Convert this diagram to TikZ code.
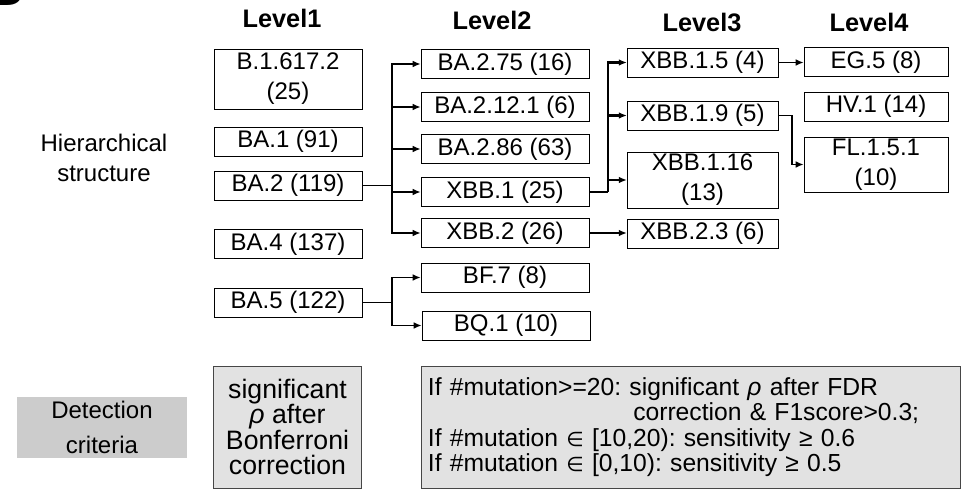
\documentclass[tikz,border=0pt]{standalone}
\usepackage{fontspec}
\setmainfont{Liberation Sans}
\newfontfamily\symfont{DejaVu Sans}
\usetikzlibrary{arrows.meta,positioning}
\frenchspacing

\definecolor{edgegray}{RGB}{70,70,70}
\definecolor{critfill}{RGB}{204,204,204}
\definecolor{rulefill}{RGB}{226,226,226}

\tikzset{
  lvbox/.style={draw, inner sep=1pt, minimum height=21.75pt, font=\fontsize{18}{22.5}\selectfont, align=center},
  lvone/.style={lvbox, minimum width=111pt},
  lvtwo/.style={lvbox, minimum width=126pt},
  lvthree/.style={lvbox, minimum width=113pt},
  lvfour/.style={lvbox, minimum width=108pt},
  head/.style={font=\fontsize{19}{22}\selectfont\bfseries},
  conn/.style={line width=1.4pt},
  arr/.style={conn, -{Latex[length=6pt,width=5pt]}},
  crit/.style={draw=edgegray, fill=rulefill, inner sep=5pt}
}
\newcommand{\elem}{{\symfont\fontsize{15}{19}\selectfont ∈}}

\begin{document}
\begin{tikzpicture}[x=0.75pt, y=-0.75pt]
\useasboundingbox (0,0) rectangle (967,489);
\node[font=\fontsize{40}{40}\selectfont\bfseries, anchor=base east] (panel) at (29,5) {B};
% column headers
\node[head] (hone) at (282,18) {Level1};
\node[head] (htwo) at (492,20) {Level2};
\node[head] (hthree) at (702,22) {Level3};
\node[head] (hfour) at (869,22) {Level4};
\node[font=\fontsize{18}{22.5}\selectfont, align=center] (hier) at (104,158) {Hierarchical\\structure};
% level 1
\node[lvone, minimum height=45pt] (b16172) at (288,79) {B.1.617.2\\(25)};
\node[lvone] (ba1) at (288,141.5) {BA.1 (91)};
\node[lvone] (ba2) at (288,185.5) {BA.2 (119)};
\node[lvone] (ba4) at (288,244) {BA.4 (137)};
\node[lvone] (ba5) at (288,302.5) {BA.5 (122)};
% level 2
\node[lvtwo] (ba275) at (505,64) {BA.2.75 (16)};
\node[lvtwo] (ba2121) at (505,107) {BA.2.12.1 (6)};
\node[lvtwo] (ba286) at (505,149) {BA.2.86 (63)};
\node[lvtwo] (xbb1) at (505,192) {XBB.1 (25)};
\node[lvtwo] (xbb2) at (505,233) {XBB.2 (26)};
\node[lvtwo] (bf7) at (505,277.5) {BF.7 (8)};
\node[lvtwo] (bq1) at (506,325.5) {BQ.1 (10)};
% level 3
\node[lvthree] (xbb15) at (702.5,62.5) {XBB.1.5 (4)};
\node[lvthree] (xbb19) at (702.5,115.5) {XBB.1.9 (5)};
\node[lvthree, minimum height=42pt] (xbb116) at (702.5,180) {XBB.1.16\\(13)};
\node[lvthree] (xbb23) at (702.5,233.5) {XBB.2.3 (6)};
% level 4
\node[lvfour] (eg5) at (876,62) {EG.5 (8)};
\node[lvfour] (hv1) at (876,106.5) {HV.1 (14)};
\node[lvfour, minimum height=41pt] (fl151) at (876,164.5) {FL.1.5.1\\(10)};
% connectors
\draw[conn] (ba2.east) -- ++(30,0) coordinate (busba2);
\foreach \n in {ba275,ba2121,ba286,xbb1,xbb2}
  \draw[arr] (busba2) |- (\n.west);
\draw[conn] (ba5.east) -- ++(30,0) coordinate (busba5);
\foreach \n in {bf7,bq1}
  \draw[arr] (busba5) |- (\n.west);
\draw[conn, line width=1.8pt] (xbb1.east) -- ++(19,0) coordinate (busxbb1);
\foreach \n in {xbb15,xbb19,xbb116}
  \draw[arr, line width=1.8pt] (busxbb1) |- (\n.west);
\draw[arr] (xbb2.east) -- (xbb23.west |- xbb2.east);
\draw[arr] (xbb15.east) -- (eg5.west |- xbb15.east);
\draw[arr] (xbb19.east) -- ++(14,0) |- (fl151.west);
% detection criteria
\node[fill=critfill, minimum width=127.5pt, minimum height=42.75pt, align=center,
      font=\fontsize{18}{26}\selectfont] (detect) at (102,427.5) {Detection\\criteria};
\node[crit, minimum width=111pt, minimum height=91.5pt, align=center, inner sep=2pt,
      font=\fontsize{20}{19}\selectfont] (bonf) at (287.5,427)
  {significant\\\textit{ρ} after\\Bonferroni\\correction};
\node[crit, anchor=north west, minimum width=404pt, minimum height=91.5pt, text width=394pt, align=left,
      font=\fontsize{18.5}{19}\selectfont] (fdr) at (421,366)
  {If \#mutation>=20: significant \textit{ρ} after FDR\\
   \hspace*{154pt}correction \& F1score>0.3;\\
   If \#mutation \elem{} [10,20): sensitivity ≥ 0.6\\
   If \#mutation \elem{} [0,10): sensitivity ≥ 0.5};
\end{tikzpicture}
\end{document}
